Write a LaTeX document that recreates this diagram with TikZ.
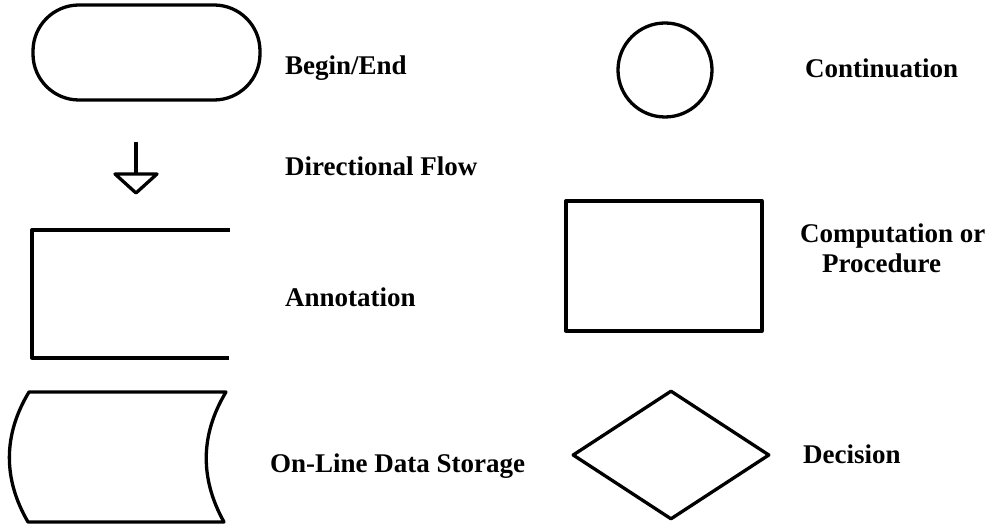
\documentclass[tikz,border=0pt]{standalone}
\usepackage{fontspec}
\setmainfont{Liberation Serif}
\usetikzlibrary{shapes.geometric}
\begin{document}
\begin{tikzpicture}[x=1pt,y=-1pt,
  shapeline/.style={draw=black,line width=3.3pt,line join=round},
  lbl/.style={anchor=base west,inner sep=0pt,font=\bfseries\fontsize{27}{31}\selectfont}]
\useasboundingbox (0,0) rectangle (988,526);
% Begin/End
\node[shapeline,rounded corners=46pt,minimum width=227pt,minimum height=95pt,inner sep=0pt] (be) at (146.5,52.5) {};
\node[lbl] (tbe) at (285,75) {Begin/End};
% Continuation
\node[shapeline,circle,minimum size=94pt,inner sep=0pt] (cont) at (665,70) {};
\node[lbl] (tcont) at (805,78) {Continuation};
% Directional flow
\coordinate (ftop) at (136,142);
\coordinate (fbase) at (136,174);
\coordinate (fl) at (115,174);
\coordinate (fr) at (157,174);
\coordinate (fapex) at (136,193);
\draw[shapeline] (ftop) -- (fbase);
\draw[shapeline] (fl) -- (fr) -- (fapex) -- cycle;
\node[lbl] (tflow) at (285,176) {Directional Flow};
% Annotation
\coordinate (a1) at (230,230);
\coordinate (a2) at (32,230);
\coordinate (a3) at (32,358);
\coordinate (a4) at (229,358);
\draw[shapeline] (a1) -- (a2) -- (a3) -- (a4);
\node[lbl] (tann) at (285,307) {Annotation};
% Computation
\node[shapeline,rectangle,minimum width=196pt,minimum height=130pt,inner sep=0pt] (comp) at (664,266) {};
\node[lbl,align=left] (tcomp) at (800,273) {Computation or\\[-1pt]\hspace*{22pt}Procedure};
% On-line storage
\coordinate (s1) at (29,392);
\coordinate (s2) at (226,392);
\coordinate (s3) at (224,522);
\coordinate (s4) at (28,522);
\draw[shapeline] (s1) -- (s2) .. controls (200,435) and (200,479) .. (s3) -- (s4) .. controls (3,479) and (3,435) .. (s1) -- cycle;
\node[lbl] (tstore) at (270,472) {On-Line Data Storage};
% Decision
\node[shapeline,diamond,minimum width=197pt,minimum height=129pt,inner sep=0pt] (dec) at (671,455) {};
\node[lbl] (tdec) at (803,463) {Decision};
\end{tikzpicture}
\end{document}
